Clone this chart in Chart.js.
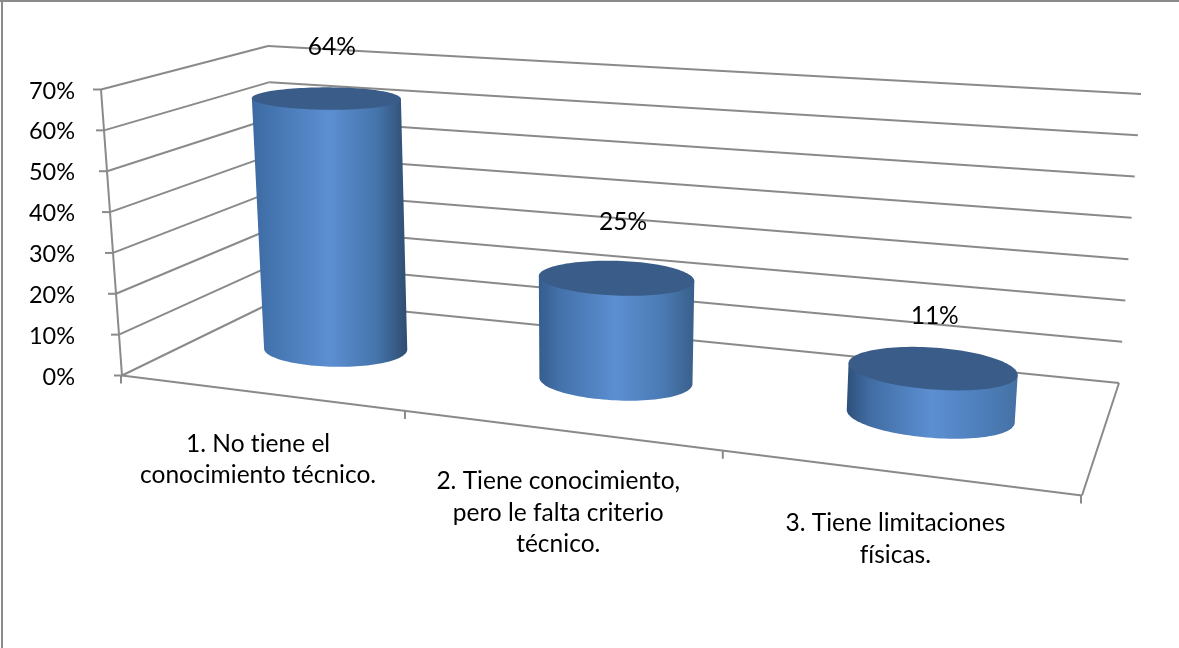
<!DOCTYPE html>
<html>
<head>
<meta charset="utf-8">
<title>Chart</title>
<script src="https://cdn.jsdelivr.net/npm/chart.js@4/dist/chart.umd.js"></script>
<style>
  html, body { margin: 0; padding: 0; background: #fff; }
  canvas { display: block; }
</style>
</head>
<body>
<canvas id="chart" width="1179" height="648"></canvas>
<script>
const categories = [
  ['1. No tiene el', 'conocimiento técnico.'],
  ['2. Tiene conocimiento,', 'pero le falta criterio', 'técnico.'],
  ['3. Tiene limitaciones', 'físicas.']
];
const percentValues = [64, 25, 11];

const FONT = '24.5px Lato, "Open Sans", sans-serif';
const LINE = '#8a8a8a';

// corners of the 3D box: floor and ceiling, front/back, left/right
const box = {
  floor: { fl: [122, 375.5], fr: [1082, 495.5], bl: [279, 299], br: [1119, 383] },
  top:   { fl: [101, 89.5],  fr: [1105, 168],   bl: [268, 46],  br: [1141, 94] }
};
const PERSPECTIVE = 0.84;
const BAR_DEPTH = 0.54;
const RADIUS_U = 0.083;
const RADIUS_V = 0.2;

// where each percent label sits relative to the centre of its cylinder's top
const labelOffsets = [[5.5, -51], [7, -56], [2.5, -52]];

const lerp = (a, b, t) => a + (b - a) * t;

// squeeze the left-right axis a bit so the near side looks wider
function warp(u) {
  return PERSPECTIVE * u / (1 + (PERSPECTIVE - 1) * u);
}

function plane(p, u, v) {
  const front = [lerp(p.fl[0], p.fr[0], u), lerp(p.fl[1], p.fr[1], u)];
  const back = [lerp(p.bl[0], p.br[0], u), lerp(p.bl[1], p.br[1], u)];
  return [lerp(front[0], back[0], v), lerp(front[1], back[1], v)];
}

// u across, v into the page, h up (all 0..1)
function project(u, v, h) {
  const a = plane(box.floor, u, v);
  const b = plane(box.top, u, v);
  return [lerp(a[0], b[0], h), lerp(a[1], b[1], h)];
}

function segment(ctx, a, b) {
  ctx.beginPath();
  ctx.moveTo(a[0], a[1]);
  ctx.lineTo(b[0], b[1]);
  ctx.stroke();
}

function mixHex(c1, c2, t) {
  const p = c => [1, 3, 5].map(i => parseInt(c.substr(i, 2), 16));
  const a = p(c1), b = p(c2);
  return 'rgb(' + a.map((x, i) => Math.round(lerp(x, b[i], t))).join(',') + ')';
}

function circlePoints(u, h) {
  const pts = [];
  for (let i = 0; i < 120; i++) {
    const th = i / 120 * Math.PI * 2;
    const uu = warp(u + RADIUS_U * Math.cos(th));
    pts.push(project(uu, BAR_DEPTH + RADIUS_V * Math.sin(th), h));
  }
  return pts;
}

function drawCylinder(ctx, u, h) {
  const bottom = circlePoints(u, 0);
  const top = circlePoints(u, h);
  const extreme = pts => {
    let l = 0, r = 0;
    pts.forEach((p, i) => {
      if (p[0] < pts[l][0]) l = i;
      if (p[0] > pts[r][0]) r = i;
    });
    return [l, r];
  };
  const [bl, br] = extreme(bottom);
  const [tl, tr] = extreme(top);

  // side: front arc of the base, then up to the top disc
  ctx.beginPath();
  ctx.moveTo(bottom[bl][0], bottom[bl][1]);
  let i = bl;
  while (i !== br) {
    i = (i + 1) % 120;
    ctx.lineTo(bottom[i][0], bottom[i][1]);
  }
  ctx.lineTo(top[tr][0], top[tr][1]);
  ctx.lineTo(top[tl][0], top[tl][1]);
  ctx.closePath();

  // light comes from the middle of the chart, so outer edges shade differently
  const x0 = Math.min(top[tl][0], bottom[bl][0]);
  const x1 = Math.max(top[tr][0], bottom[br][0]);
  const g = ctx.createLinearGradient(x0, 0, x1, 0);
  const edgeL = mixHex('#3f6fab', '#2b4a70', u);
  const edgeR = mixHex('#2a4463', '#4a79b0', u);
  g.addColorStop(0, edgeL);
  g.addColorStop(0.13, mixHex('#4677b3', '#3f6a9e', u));
  g.addColorStop(0.5, '#5c8fd2');
  g.addColorStop(0.8, mixHex('#4473a8', '#4f80bd', u));
  g.addColorStop(1, edgeR);
  ctx.fillStyle = g;
  ctx.fill();

  ctx.beginPath();
  top.forEach((p, n) => n ? ctx.lineTo(p[0], p[1]) : ctx.moveTo(p[0], p[1]));
  ctx.closePath();
  ctx.fillStyle = '#3a5c88';
  ctx.fill();
}

const box3d = {
  id: 'box3d',
  beforeDatasetsDraw(chart) {
    const { ctx, chartArea: area, scales: { y } } = chart;
    const height = area.bottom - area.top;
    ctx.save();

    // outer frame, only top and left edges show
    ctx.strokeStyle = LINE;
    ctx.lineWidth = 2;
    segment(ctx, [0, 1], [1179, 1]);
    segment(ctx, [2, 0], [2, 648]);

    y.ticks.forEach(tick => {
      const h = (area.bottom - y.getPixelForValue(tick.value)) / height;
      const front = project(0, 0, h);
      const back = project(0, 1, h);
      segment(ctx, front, back);
      segment(ctx, back, project(1, 1, h));
      segment(ctx, [front[0] - 8, front[1]], front);
    });
    segment(ctx, project(0, 0, 0), project(0, 0, 1));
    segment(ctx, project(0, 0, 0), project(1, 0, 0));
    segment(ctx, project(1, 0, 0), project(1, 1, 0));

    // category separators under the front edge
    for (let i = 0; i <= categories.length; i++) {
      const p = project(warp(i / categories.length), 0, 0);
      segment(ctx, [p[0] - 1, p[1]], [p[0] - 1, p[1] + 8]);
    }
    ctx.restore();
  },
  afterDatasetsDraw(chart) {
    const { ctx, chartArea: area } = chart;
    const width = area.right - area.left;
    const height = area.bottom - area.top;
    const bars = chart.getDatasetMeta(0).data;
    const ds = chart.data.datasets[0].data;

    ctx.save();
    bars.forEach(bar => {
      const u = (bar.x - area.left) / width;
      drawCylinder(ctx, u, (bar.base - bar.y) / height);
    });

    ctx.font = FONT;
    ctx.letterSpacing = '0.01px'; // keeps Lato from joining "ti"
    ctx.fillStyle = '#000';
    ctx.textAlign = 'center';
    ctx.textBaseline = 'middle';
    bars.forEach((bar, i) => {
      const u = (bar.x - area.left) / width;
      const h = (bar.base - bar.y) / height;
      const c = project(warp(u), BAR_DEPTH, h);
      ctx.fillText(ds[i] + '%', c[0] + labelOffsets[i][0], c[1] + labelOffsets[i][1]);

      // category text stays under the front edge, so it steps down with it
      const edge = project(warp(u), 0, 0);
      chart.data.labels[i].forEach((line, n) => {
        ctx.fillText(line, edge[0] - 2, edge[1] + 51 + n * 31.5);
      });
    });
    ctx.restore();
  }
};

new Chart(document.getElementById('chart'), {
  type: 'bar',
  data: {
    labels: categories,
    datasets: [{
      data: percentValues,
      backgroundColor: 'rgba(0,0,0,0)',
      borderWidth: 0
    }]
  },
  plugins: [box3d],
  options: {
    responsive: false,
    animation: false,
    layout: { padding: { top: 91, right: 97, bottom: 271, left: 0 } },
    plugins: { legend: { display: false }, tooltip: { enabled: false } },
    scales: {
      x: { display: false },
      y: {
        min: 0,
        max: 70,
        afterFit(scale) { scale.width = 122; },
        grid: { display: false },
        border: { display: false },
        ticks: {
          stepSize: 10,
          padding: 39,
          color: '#000',
          font: { family: 'Lato', size: 23.5 },
          callback: v => v + '%'
        }
      }
    }
  }
});
</script>
</body>
</html>
